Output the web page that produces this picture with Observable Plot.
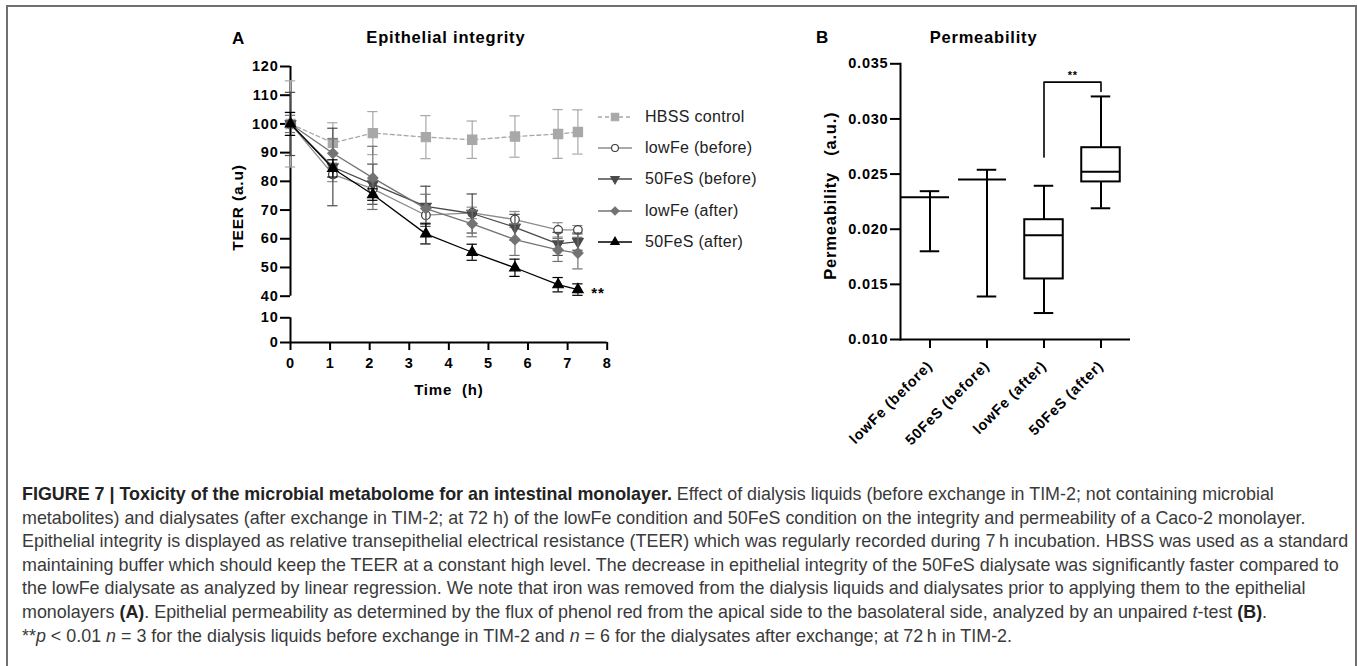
<!DOCTYPE html>
<html><head><meta charset="utf-8">
<script src="https://cdn.jsdelivr.net/npm/d3@7"></script>
<script src="https://cdn.jsdelivr.net/npm/@observablehq/plot@0.6"></script>
<style>
body{margin:0;background:#fff;}
#fig{position:relative;width:1357px;height:666px;overflow:hidden;background:#fff;font-family:"Liberation Sans",Arial,sans-serif;}
#frame{position:absolute;left:6px;top:5px;width:1351px;height:700px;border:2px solid #707070;border-bottom:none;box-sizing:border-box;}
#panelA{position:absolute;left:0;top:0;}
#panelB{position:absolute;left:780px;top:0;}
#legend{position:absolute;left:598px;top:101px;}
#legend .row{height:31.3px;display:flex;align-items:center;font-size:16px;color:#222;letter-spacing:0.3px;white-space:nowrap;}
#legend .row span{margin-left:11px;}
#caption{position:absolute;left:22px;top:483px;line-height:23.6px;color:#3a3a3a;font-family:"Liberation Sans Narrow","Liberation Sans",Arial,sans-serif;font-size:18px;}
#caption div{white-space:nowrap;}
#caption b{color:#222;}
</style></head>
<body>
<div id="fig">
  <div id="frame"></div>
  <div id="panelA"></div>
  <div id="legend"></div>
  <div id="panelB"></div>
  <div id="caption">
    <div><b>FIGURE 7 | Toxicity of the microbial metabolome for an intestinal monolayer.</b> Effect of dialysis liquids (before exchange in TIM-2; not containing microbial</div>
    <div>metabolites) and dialysates (after exchange in TIM-2; at 72 h) of the lowFe condition and 50FeS condition on the integrity and permeability of a Caco-2 monolayer.</div>
    <div id="fitline">Epithelial integrity is displayed as relative transepithelial electrical resistance (TEER) which was regularly recorded during 7&thinsp;h incubation. HBSS was used as a standard</div>
    <div>maintaining buffer which should keep the TEER at a constant high level. The decrease in epithelial integrity of the 50FeS dialysate was significantly faster compared to</div>
    <div>the lowFe dialysate as analyzed by linear regression. We note that iron was removed from the dialysis liquids and dialysates prior to applying them to the epithelial</div>
    <div>monolayers <b>(A)</b>. Epithelial permeability as determined by the flux of phenol red from the apical side to the basolateral side, analyzed by an unpaired <i>t</i>-test <b>(B)</b>.</div>
    <div>**<i>p</i> &lt; 0.01 <i>n</i> = 3 for the dialysis liquids before exchange in TIM-2 and <i>n</i> = 6 for the dialysates after exchange; at 72&thinsp;h in TIM-2.</div>
  </div>
</div>
<script>
// ---------- Panel A data ----------
const times = [0, 1.07, 2.08, 3.42, 4.59, 5.67, 6.76, 7.26];
const seriesNames = ["HBSS control", "lowFe (before)", "50FeS (before)", "lowFe (after)", "50FeS (after)"];
const teerHBSS        = [100, 93.4, 96.8, 95.4, 94.5, 95.6, 96.5, 97.2];
const errHBSS         = [15, 7, 7.5, 7.5, 6.5, 7.2, 8.5, 7.7];
const teerLowFeBefore = [100, 82.4, 77.4, 68.2, 69.0, 66.7, 63.1, 63.1];
const errLowFeBefore  = [4, 2.5, 3, 3, 2, 2.8, 2.5, 1.5];
const teerFeSBefore   = [100, 85.0, 79.0, 71.3, 68.8, 64.0, 58.2, 59.0];
const errFeSBefore    = [11, 13.5, 7, 7, 6.8, 4.5, 4, 3];
const teerLowFeAfter  = [100, 89.8, 81.2, 70.5, 65.2, 59.7, 56.1, 55.0];
const errLowFeAfter   = [3, 5, 11, 5, 4.5, 5.5, 4, 5.5];
const teerFeSAfter    = [100, 84.5, 75.4, 61.7, 55.3, 49.9, 44.0, 42.3];
const errFeSAfter     = [4, 3, 2, 3.5, 2.8, 3, 2.5, 2];
const xTicksA = [0, 1, 2, 3, 4, 5, 6, 7, 8];
const yTicksA = [0, 10, 40, 50, 60, 70, 80, 90, 100, 110, 120];
const yAxisSegments = [[40, 120], [0, 10]];
const sigA = "**";

// ---------- Panel B data ----------
const permCats   = ["lowFe (before)", "50FeS (before)", "lowFe (after)", "50FeS (after)"];
const permMin    = [0.0180, 0.0139, 0.0124, 0.0219];
const permQ1     = [0.0229, 0.0245, 0.01465, 0.02345];
const permMedian = [0.0229, 0.0245, 0.01946, 0.0252];
const permQ3     = [0.0229, 0.0245, 0.0217, 0.02823];
const permMax    = [0.02345, 0.02539, 0.02394, 0.03204];
const yTicksB = [0.010, 0.015, 0.020, 0.025, 0.030, 0.035];
const sigPair = ["lowFe (after)", "50FeS (after)"];
const sigLevels = [0.02654, 0.03334, 0.03249];
const sigB = "**";

// ---------- styles ----------
const triangleDown = {
  draw(context, size) {
    const y = -Math.sqrt(size / (Math.sqrt(3) * 3));
    const s3 = Math.sqrt(3);
    context.moveTo(0, -y * 2);
    context.lineTo(-s3 * y, y);
    context.lineTo(s3 * y, y);
    context.closePath();
  }
};
const styles = {
  "HBSS control":   {line: "#a8a8a8", dash: "4,3", symbol: "square", r: 5.2, fill: "#a8a8a8", stroke: "#a8a8a8", err: "#a8a8a8"},
  "lowFe (before)": {line: "#8c8c8c", symbol: "circle", r: 4.3, fill: "white", stroke: "#3c3c3c", err: "#8c8c8c"},
  "50FeS (before)": {line: "#4a4a4a", symbol: triangleDown, r: 3.9, fill: "#4a4a4a", stroke: "#4a4a4a", err: "#4a4a4a"},
  "lowFe (after)":  {line: "#737373", symbol: "diamond2", r: 4.6, fill: "#737373", stroke: "#737373", err: "#737373"},
  "50FeS (after)":  {line: "#000000", symbol: "triangle", r: 3.9, fill: "#000000", stroke: "#000000", err: "#000000"}
};
const symbolTypes = {square: d3.symbolSquare, circle: d3.symbolCircle, diamond2: d3.symbolDiamond2, triangle: d3.symbolTriangle};

const teerValues = [teerHBSS, teerLowFeBefore, teerFeSBefore, teerLowFeAfter, teerFeSAfter];
const teerErrors = [errHBSS, errLowFeBefore, errFeSBefore, errLowFeAfter, errFeSAfter];
const rowsBySeries = seriesNames.map((name, s) =>
  times.map((t, i) => ({series: name, t, v: teerValues[s][i], e: teerErrors[s][i]})));

// broken y axis: 0–10 compressed below the 40–120 segment
const brk = d3.scaleLinear([0, 10, 40, 120], [23.87, 32.48, 40, 120]);
const yTickPos = yTicksA.map(brk);
const capHalf = 0.13;

const chartStyle = {fontFamily: "'Liberation Sans', Arial, sans-serif", fontSize: "14px", fontWeight: "bold", letterSpacing: "0.8px", color: "#000", background: "transparent", overflow: "visible"};

const marksA = [];
rowsBySeries.forEach((rows) => {
  const st = styles[rows[0].series];
  marksA.push(
    Plot.ruleX(rows, {x: "t", y1: d => brk(d.v - d.e), y2: d => brk(d.v + d.e), stroke: st.err, strokeWidth: 1.2}),
    Plot.ruleY(rows, {x1: d => d.t - capHalf, x2: d => d.t + capHalf, y: d => brk(d.v + d.e), stroke: st.err, strokeWidth: 1.2}),
    Plot.ruleY(rows, {x1: d => d.t - capHalf, x2: d => d.t + capHalf, y: d => brk(d.v - d.e), stroke: st.err, strokeWidth: 1.2}),
    Plot.line(rows, {x: "t", y: d => brk(d.v), stroke: st.line, strokeWidth: 1.3, strokeDasharray: st.dash || null}),
    Plot.dot(rows, {x: "t", y: d => brk(d.v), symbol: st.symbol, r: st.r, fill: st.fill, stroke: st.stroke, strokeWidth: 1.2})
  );
});
const lastFeS = rowsBySeries[4][rowsBySeries[4].length - 1];

const plotA = Plot.plot({
  width: 620, height: 420,
  marginLeft: 290, marginRight: 13.3, marginTop: 66, marginBottom: 78,
  x: {domain: [0, 8], label: null},
  y: {domain: [brk(0), brk(120)], label: null},
  style: chartStyle,
  marks: [
    Plot.ruleX(yAxisSegments, {x: 0, y1: d => brk(d[0]), y2: d => brk(d[1]), strokeWidth: 2}),
    Plot.ruleY([brk(0)], {x1: 0, x2: 8, strokeWidth: 2}),
    Plot.axisY(yTickPos, {tickFormat: d => String(yTicksA[yTickPos.indexOf(d)]), tickSize: 10, tickPadding: 2, strokeWidth: 2, fontSize: 14.5, label: null}),
    Plot.axisX(xTicksA, {tickSize: 8, tickPadding: 7, strokeWidth: 2, fontSize: 14.5, label: null}),
    ...marksA,
    Plot.text([lastFeS], {x: "t", y: d => brk(d.v), text: () => sigA, dx: 20, dy: 4, fontSize: 15}),
    Plot.text(["Time\u00a0 (h)"], {frameAnchor: "bottom", dy: 52, fontSize: 15}),
    Plot.text(["TEER (a.u)"], {frameAnchor: "left", textAnchor: "middle", rotate: -90, dx: -52, dy: 3, fontSize: 15.5}),
    Plot.text(["Epithelial integrity"], {frameAnchor: "top", dy: -35, dx: -3, fontSize: 16.5}),
    Plot.text(["A"], {frameAnchor: "top-left", textAnchor: "middle", dx: -52, dy: -35, fontSize: 17})
  ]
});
document.getElementById("panelA").appendChild(plotA);

// ---------- legend ----------
const legend = d3.select("#legend");
seriesNames.forEach(name => {
  const st = styles[name];
  const row = legend.append("div").attr("class", "row");
  const svg = row.append("svg").attr("width", 36).attr("height", 20);
  svg.append("line").attr("x1", 0).attr("x2", 34).attr("y1", 10).attr("y2", 10)
    .attr("stroke", st.line).attr("stroke-width", 1.3).attr("stroke-dasharray", st.dash || null);
  const type = typeof st.symbol === "string" ? symbolTypes[st.symbol] : st.symbol;
  svg.append("path").attr("transform", "translate(17,10)")
    .attr("d", d3.symbol(type, Math.PI * (st.r * 0.8) ** 2)())
    .attr("fill", st.fill).attr("stroke", st.stroke).attr("stroke-width", 1.1);
  row.append("span").text(name);
});

// ---------- Panel B ----------
const boxes = permCats.map((c, i) => ({cat: c, min: permMin[i], q1: permQ1[i], med: permMedian[i], q3: permQ3[i], max: permMax[i]}));
const realBoxes = boxes.filter(d => d.q3 > d.q1);
const flatBoxes = boxes.filter(d => !(d.q3 > d.q1));
const bracket = [
  {cat: sigPair[0], y: sigLevels[0]},
  {cat: sigPair[0], y: sigLevels[1]},
  {cat: sigPair[1], y: sigLevels[1]},
  {cat: sigPair[1], y: sigLevels[2]}
];

const plotB = Plot.plot({
  width: 370, height: 460,
  marginLeft: 120, marginRight: 20, marginTop: 63.3, marginBottom: 121,
  x: {type: "band", domain: permCats, padding: 0, label: null},
  y: {domain: [0.010, 0.035], label: null},
  style: chartStyle,
  marks: [
    Plot.frame({anchor: "left", strokeWidth: 2}),
    Plot.ruleY([0.010], {strokeWidth: 2}),
    Plot.axisY(yTicksB, {tickFormat: d3.format(".3f"), tickSize: 10, tickPadding: 2, strokeWidth: 2, fontSize: 14.5, label: null}),
    Plot.axisX({tickRotate: -45, tickSize: 9, tickPadding: 15, strokeWidth: 2, fontSize: 14.5, label: null}),
    Plot.ruleX(boxes, {x: "cat", y1: "min", y2: "max", strokeWidth: 2}),
    Plot.tickY(boxes, {x: "cat", y: "min", inset: 18.75, strokeWidth: 2}),
    Plot.tickY(boxes, {x: "cat", y: "max", inset: 18.75, strokeWidth: 2}),
    Plot.barY(realBoxes, {x: "cat", y1: "q1", y2: "q3", inset: 9.25, fill: "white", stroke: "black", strokeWidth: 2}),
    Plot.tickY(realBoxes, {x: "cat", y: "med", inset: 9.25, strokeWidth: 2}),
    Plot.tickY(flatBoxes, {x: "cat", y: "med", insetLeft: 0, insetRight: 9, strokeWidth: 2}),
    Plot.line(bracket, {x: "cat", y: "y", stroke: "black", strokeWidth: 1.6}),
    Plot.text([sigB], {x: () => sigPair[0], y: () => sigLevels[1], dx: 28.75, dy: -7, fontSize: 11}),
    Plot.text(["Permeability\u00a0\u00a0 (a.u.)"], {frameAnchor: "left", textAnchor: "middle", rotate: -90, dx: -70, dy: -6, fontSize: 16.5}),
    Plot.text(["Permeability"], {frameAnchor: "top", dx: -32, dy: -33, fontSize: 16.5}),
    Plot.text(["B"], {frameAnchor: "top-left", textAnchor: "middle", dx: -78, dy: -33, fontSize: 17})
  ]
});
document.getElementById("panelB").appendChild(plotB);

// ---------- caption fitting ----------
const fit = document.getElementById("fitline");
const w = fit.getBoundingClientRect().width;
const cap = document.getElementById("caption");
cap.style.fontSize = (18 * 1327 / w).toFixed(2) + "px";
</script>
</body></html>
